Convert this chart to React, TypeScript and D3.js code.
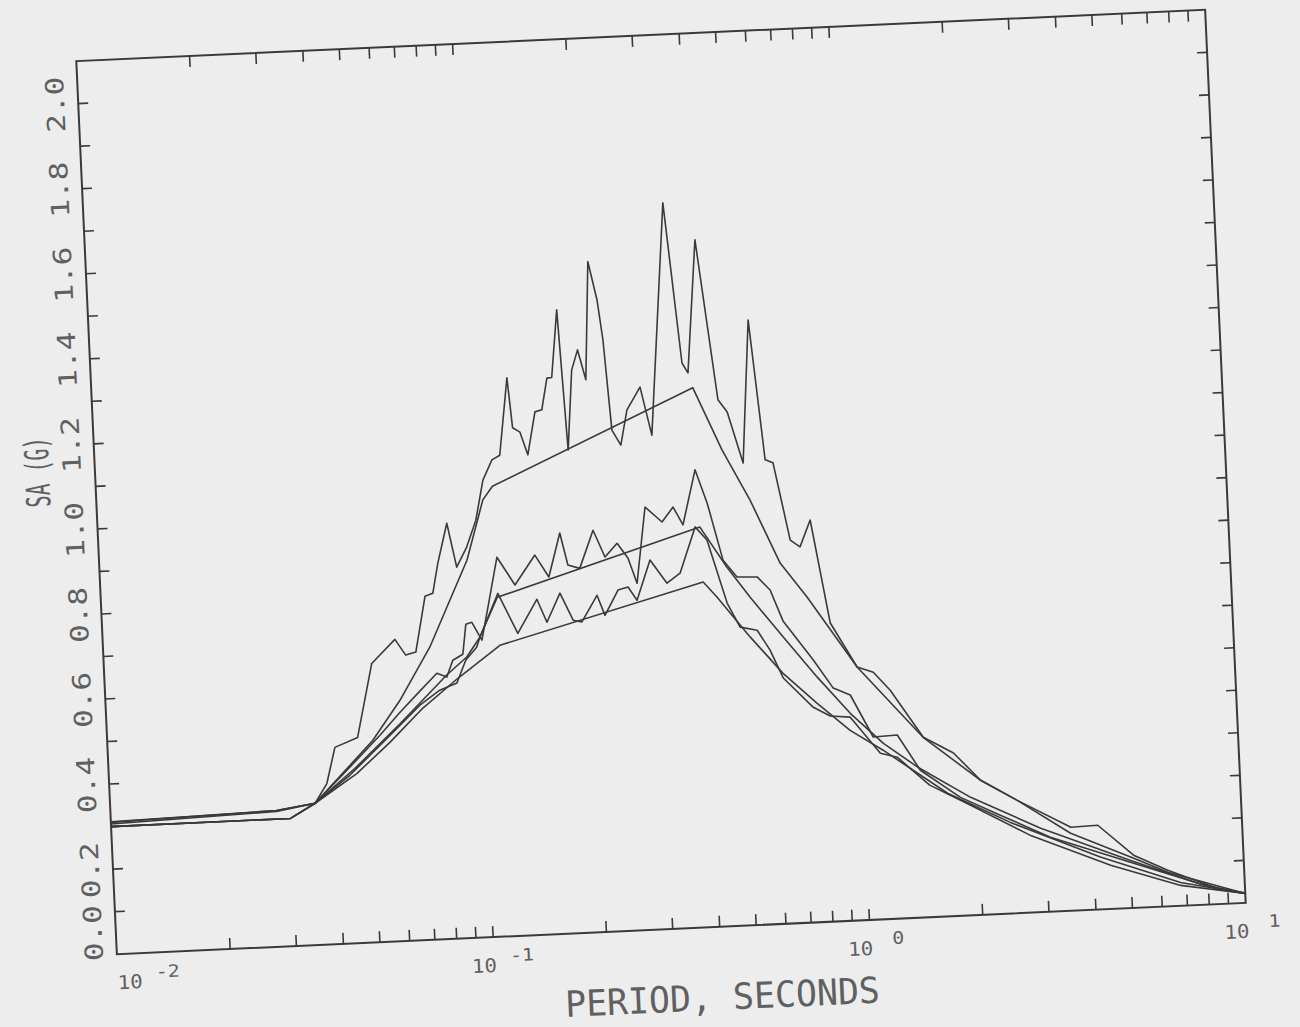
import React, { useEffect } from "react";
import * as d3 from "d3";

const WIDTH = 1300;
const HEIGHT = 1027;
const PLOT = { left: 96, right: 1226, top: 35, bottom: 929 };
const TILT = -2.6; // the scanned sheet sits a little rotated
const CENTER = { x: 661, y: 482 };

// tick labels
const yLabels = ["0.0", "0.2", "0.4", "0.6", "0.8", "1.0", "1.2", "1.4", "1.6", "1.8", "2.0"];
const xDecades = [0.01, 0.1, 1, 10];
const xExponents = ["-2", "-1", "0", "1"];

// [period (s), SA (g)]
const topComputed: [number, number][] = [
  [0.01, 0.31], [0.0276, 0.32], [0.035, 0.333], [0.0378, 0.378], [0.0401, 0.462], [0.0462, 0.483],
  [0.0514, 0.655], [0.0596, 0.709], [0.0634, 0.671], [0.0675, 0.677], [0.0725, 0.807], [0.0761, 0.813],
  [0.0791, 0.883], [0.0845, 0.976], [0.0887, 0.872], [0.0948, 0.918], [0.101, 0.98], [0.1066, 1.073],
  [0.1133, 1.12], [0.119, 1.13], [0.127, 1.311], [0.1297, 1.193], [0.1355, 1.182], [0.1413, 1.128],
  [0.1493, 1.228], [0.1558, 1.232], [0.1621, 1.306], [0.167, 1.307], [0.1754, 1.465], [0.181, 1.135],
  [0.189, 1.322], [0.197, 1.369], [0.2056, 1.298], [0.215, 1.575], [0.225, 1.484], [0.2307, 1.39],
  [0.2377, 1.177], [0.25, 1.141], [0.262, 1.223], [0.2856, 1.275], [0.303, 1.161], [0.3455, 1.705],
  [0.3715, 1.327], [0.3843, 1.303], [0.416, 1.615], [0.458, 1.237], [0.483, 1.207], [0.525, 1.086],
  [0.563, 1.421], [0.601, 1.091], [0.63, 1.083], [0.685, 0.9], [0.726, 0.883], [0.778, 0.945],
  [0.855, 0.701], [0.995, 0.595], [1.097, 0.581], [1.21, 0.537], [1.462, 0.423], [1.75, 0.383],
  [2.05, 0.316], [2.55, 0.265], [3.51, 0.196], [4.14, 0.198], [5.11, 0.124], [6.27, 0.085],
  [8.46, 0.037], [10, 0.024],
];

const topDesign: [number, number][] = [
  [0.01, 0.3], [0.03, 0.3], [0.035, 0.333], [0.0506, 0.474], [0.0604, 0.565], [0.0736, 0.687],
  [0.086, 0.811], [0.0946, 0.887], [0.106, 1.027], [0.1128, 1.058], [0.394, 1.268], [0.463, 1.119],
  [0.542, 0.998], [0.64, 0.847], [0.748, 0.764], [0.995, 0.595], [1.46, 0.423], [2.05, 0.316],
  [2.55, 0.265], [3.5, 0.182], [5.11, 0.117], [6.27, 0.08], [10, 0.022],
];

const midComputed: [number, number][] = [
  [0.01, 0.311], [0.0276, 0.32], [0.035, 0.333], [0.0423, 0.402], [0.0529, 0.485], [0.0602, 0.537],
  [0.0675, 0.58], [0.0763, 0.625], [0.081, 0.615], [0.0844, 0.654], [0.0899, 0.667], [0.0923, 0.737],
  [0.0958, 0.741], [0.1014, 0.698], [0.106, 0.772], [0.1137, 0.891], [0.126, 0.824], [0.1434, 0.892],
  [0.1553, 0.839], [0.168, 0.941], [0.175, 0.865], [0.188, 0.856], [0.206, 0.944], [0.22, 0.88],
  [0.2377, 0.911], [0.253, 0.875], [0.2657, 0.815], [0.2848, 0.993], [0.3147, 0.956], [0.338, 0.99],
  [0.3574, 0.947], [0.3905, 1.075], [0.4166, 0.996], [0.452, 0.86], [0.49, 0.819], [0.554, 0.817],
  [0.5975, 0.785], [0.641, 0.711], [0.763, 0.616], [0.855, 0.548], [0.947, 0.53], [1.077, 0.429],
  [1.248, 0.431], [1.423, 0.346], [1.804, 0.278], [2.29, 0.232], [3.09, 0.175], [5.1, 0.105],
  [8.46, 0.035], [10, 0.022],
];

const midDesign: [number, number][] = [
  [0.01, 0.3], [0.03, 0.3], [0.035, 0.333], [0.045, 0.41], [0.06, 0.51], [0.081, 0.62],
  [0.092, 0.66], [0.1002, 0.705], [0.1127, 0.797], [0.396, 0.94], [0.462, 0.843], [0.528, 0.77],
  [0.639, 0.673], [0.777, 0.576], [0.942, 0.487], [1.144, 0.413], [1.399, 0.354], [1.92, 0.277],
  [2.92, 0.197], [5.01, 0.112], [7.62, 0.049], [10, 0.022],
];

const lowComputed: [number, number][] = [
  [0.01, 0.306], [0.0276, 0.318], [0.035, 0.333], [0.0436, 0.395], [0.0563, 0.484], [0.0682, 0.552],
  [0.0773, 0.585], [0.086, 0.6], [0.0914, 0.653], [0.098, 0.682], [0.1002, 0.705], [0.1132, 0.806],
  [0.1265, 0.71], [0.1434, 0.788], [0.1516, 0.733], [0.1654, 0.8], [0.178, 0.735], [0.1877, 0.73],
  [0.2073, 0.791], [0.2165, 0.743], [0.236, 0.801], [0.2511, 0.807], [0.2644, 0.775], [0.2893, 0.868],
  [0.319, 0.812], [0.3464, 0.834], [0.3846, 0.941], [0.412, 0.909], [0.458, 0.759], [0.4925, 0.701],
  [0.546, 0.692], [0.5876, 0.644], [0.632, 0.577], [0.753, 0.505], [0.833, 0.483], [0.941, 0.478],
  [1.12, 0.39], [1.24, 0.379], [1.5, 0.31], [1.91, 0.259], [2.73, 0.182], [4.43, 0.103],
  [6.76, 0.048], [10, 0.022],
];

const lowDesign: [number, number][] = [
  [0.01, 0.3], [0.03, 0.3], [0.035, 0.333], [0.0455, 0.398], [0.0562, 0.468], [0.0694, 0.545],
  [0.0863, 0.61], [0.113, 0.684], [0.398, 0.811], [0.431, 0.774], [0.522, 0.677], [0.632, 0.588],
  [0.772, 0.514], [0.937, 0.447], [1.14, 0.397], [1.67, 0.289], [2.43, 0.214], [4.17, 0.123],
  [6.76, 0.055], [10, 0.022],
];

const allSeries = [topComputed, topDesign, midComputed, midDesign, lowComputed, lowDesign];

const INK = "#3a3a3a";
const TEXT = "#606060";
const FONT = "'DejaVu Sans Mono', monospace";

export default function App() {
  useEffect(() => {
    document.body.style.margin = "0";
  }, []);

  const x = d3.scaleLog().domain([0.01, 10]).range([PLOT.left, PLOT.right]);
  const y = d3.scaleLinear().domain([0, 2.1]).range([PLOT.bottom, PLOT.top]);

  const line = d3
    .line<[number, number]>()
    .x((d) => x(d[0]))
    .y((d) => y(d[1]));

  const xTicks = x.ticks().filter((t) => t > 0.0101 && t < 9.99);
  const yTicks = d3.range(1, 21).map((i) => i / 10);

  return (
    <svg width={WIDTH} height={HEIGHT} style={{ display: "block" }}>
      <rect width={WIDTH} height={HEIGHT} fill="#ededed" />
      <g transform={`rotate(${TILT},${CENTER.x},${CENTER.y})`}>
        <rect
          x={PLOT.left}
          y={PLOT.top}
          width={PLOT.right - PLOT.left}
          height={PLOT.bottom - PLOT.top}
          fill="none"
          stroke={INK}
          strokeWidth={2}
        />
        {xTicks.map((t) => (
          <g key={"xt" + t} stroke={INK} strokeWidth={1.6}>
            <line x1={x(t)} x2={x(t)} y1={PLOT.bottom} y2={PLOT.bottom - 11} />
            <line x1={x(t)} x2={x(t)} y1={PLOT.top} y2={PLOT.top + 11} />
          </g>
        ))}
        {yTicks.map((t) => (
          <g key={"yt" + t} stroke={INK} strokeWidth={1.6}>
            <line x1={PLOT.left} x2={PLOT.left + 10} y1={y(t)} y2={y(t)} />
            <line x1={PLOT.right} x2={PLOT.right - 10} y1={y(t)} y2={y(t)} />
          </g>
        ))}

        {allSeries.map((s, i) => (
          <path key={"s" + i} d={line(s) ?? ""} fill="none" stroke={INK} strokeWidth={1.6} strokeLinejoin="round" />
        ))}

        {yLabels.map((lab, i) => {
          const v = i * 0.2;
          const first = i === 0;
          const yy = first ? PLOT.bottom + 6 : y(v);
          return (
            <text
              key={"yl" + lab}
              transform={`translate(82,${yy}) rotate(-90)`}
              textAnchor={first ? "start" : "middle"}
              fontFamily={FONT}
              fontSize={25}
              fill={TEXT}
              textLength={56}
              lengthAdjust="spacingAndGlyphs"
            >
              {lab}
            </text>
          );
        })}

        {xDecades.map((d, i) => {
          const cx = x(d) + (i === 0 ? 12 : -10);
          return (
            <g key={"xl" + d} fontFamily={FONT} fill={TEXT}>
              <text x={cx} y={964} textAnchor="middle" fontSize={19} textLength={25} lengthAdjust="spacingAndGlyphs">
                10
              </text>
              <text
                x={cx + 38}
                y={954}
                textAnchor="middle"
                fontSize={17}
                textLength={xExponents[i].length * 12}
                lengthAdjust="spacingAndGlyphs"
              >
                {xExponents[i]}
              </text>
            </g>
          );
        })}

        <text
          x={699}
          y={1012}
          textAnchor="middle"
          fontFamily={FONT}
          fontSize={36}
          fill={TEXT}
          textLength={315}
          lengthAdjust="spacingAndGlyphs"
        >
          PERIOD, SECONDS
        </text>
        <text
          transform={`translate(50,444) rotate(-90)`}
          textAnchor="middle"
          fontFamily={FONT}
          fontSize={33}
          fill={TEXT}
          textLength={70}
          lengthAdjust="spacingAndGlyphs"
        >
          SA (G)
        </text>
      </g>
    </svg>
  );
}
